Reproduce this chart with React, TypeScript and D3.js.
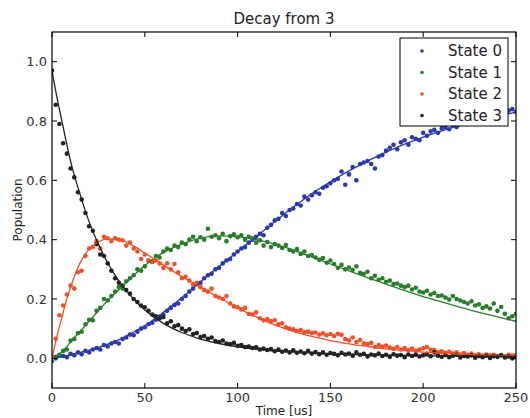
import React from "react";
import * as d3 from "d3";

// sample times, every 2 us from 0 to 250
const times = d3.range(0, 251, 2);

const state0 = [
  0.005, 0.0, 0.01, 0.008, 0.004, 0.015, 0.01, 0.02, 0.014, 0.025,
  0.02, 0.03, 0.035, 0.03, 0.045, 0.04, 0.05, 0.055, 0.05, 0.065,
  0.07, 0.08, 0.078, 0.09, 0.1, 0.105, 0.115, 0.12, 0.13, 0.14,
  0.148, 0.16, 0.17, 0.18, 0.185, 0.2, 0.21, 0.225, 0.235, 0.25,
  0.255, 0.27, 0.28, 0.285, 0.3, 0.305, 0.32, 0.33, 0.335, 0.35,
  0.36, 0.37, 0.375, 0.39, 0.4, 0.41, 0.42, 0.415, 0.44, 0.45,
  0.465, 0.47, 0.49, 0.48, 0.5, 0.505, 0.52, 0.515, 0.545, 0.535,
  0.55, 0.56, 0.555, 0.575, 0.58, 0.59, 0.6, 0.605, 0.63, 0.585,
  0.62, 0.645, 0.6, 0.655, 0.66, 0.665, 0.655, 0.64, 0.68, 0.685,
  0.7, 0.71, 0.72, 0.705, 0.728, 0.735, 0.72, 0.745, 0.74, 0.735,
  0.76, 0.75, 0.765, 0.77, 0.76, 0.775, 0.78, 0.772, 0.785, 0.78,
  0.79, 0.795, 0.8, 0.79, 0.805, 0.81, 0.8, 0.815, 0.82, 0.81,
  0.825, 0.83, 0.82, 0.835, 0.84, 0.83,
];

const state1 = [
  -0.01, 0.005, 0.012, 0.025, 0.03, 0.06, 0.065, 0.085, 0.09, 0.115,
  0.13, 0.128, 0.16, 0.17, 0.2, 0.195, 0.21, 0.225, 0.24, 0.235,
  0.26, 0.27, 0.28, 0.3, 0.295, 0.31, 0.33, 0.325, 0.345, 0.34,
  0.36, 0.37, 0.365, 0.38, 0.375, 0.39, 0.385, 0.4, 0.41, 0.395,
  0.408, 0.4, 0.437, 0.41, 0.415, 0.405, 0.42, 0.395, 0.412, 0.418,
  0.408, 0.415, 0.4, 0.41, 0.405, 0.39, 0.398, 0.38, 0.392, 0.375,
  0.385, 0.38, 0.372, 0.382, 0.365, 0.36, 0.368, 0.352, 0.36, 0.345,
  0.348, 0.34, 0.332, 0.338, 0.322, 0.33, 0.318, 0.305, 0.315, 0.3,
  0.306, 0.298, 0.31, 0.288, 0.285, 0.292, 0.27, 0.278, 0.265, 0.27,
  0.258, 0.262, 0.25, 0.252, 0.245, 0.24, 0.245, 0.232, 0.238, 0.225,
  0.222, 0.228, 0.215, 0.22, 0.21, 0.212, 0.205, 0.198, 0.21, 0.2,
  0.195, 0.19, 0.185, 0.192, 0.178, 0.182, 0.17, 0.175, 0.168, 0.185,
  0.16, 0.173, 0.15, 0.135, 0.142, 0.15,
];

const state2 = [
  0.005, 0.066, 0.145, 0.178, 0.215, 0.245, 0.235, 0.29, 0.295, 0.345,
  0.37, 0.375, 0.395, 0.37, 0.41, 0.405, 0.395, 0.405, 0.4, 0.398,
  0.38, 0.39, 0.37, 0.36, 0.335, 0.35, 0.33, 0.325, 0.33, 0.32,
  0.305, 0.32, 0.3, 0.318, 0.29, 0.27, 0.275, 0.262, 0.25, 0.255,
  0.24, 0.23, 0.225, 0.235, 0.21, 0.205, 0.2, 0.21, 0.185, 0.175,
  0.172, 0.165, 0.17, 0.15, 0.148, 0.155, 0.135, 0.128, 0.132, 0.125,
  0.128, 0.115, 0.118, 0.105, 0.1, 0.098, 0.092, 0.095, 0.088, 0.09,
  0.085, 0.087, 0.08, 0.084, 0.078, 0.082, 0.075, 0.083, 0.079, 0.065,
  0.06, 0.07, 0.055, 0.062, 0.05, 0.048, 0.052, 0.038, 0.045, 0.04,
  0.043, 0.036, 0.032, 0.038, 0.03, 0.035, 0.028, 0.033, 0.025, 0.03,
  0.034, 0.038, 0.029, 0.028, 0.02, 0.024, 0.018, 0.022, 0.016, 0.02,
  0.013, 0.018, 0.012, 0.016, 0.01, 0.014, 0.009, 0.013, 0.01, 0.012,
  0.008, 0.011, 0.007, 0.012, 0.009, 0.01,
];

const state3 = [
  0.97, 0.855, 0.79, 0.725, 0.69, 0.64, 0.61, 0.56, 0.535, 0.49,
  0.445, 0.43, 0.385, 0.35, 0.345, 0.32, 0.295, 0.27, 0.255, 0.245,
  0.23, 0.218, 0.2, 0.19, 0.178, 0.172, 0.16, 0.148, 0.142, 0.135,
  0.139, 0.118, 0.125, 0.108, 0.112, 0.1, 0.092, 0.098, 0.082, 0.085,
  0.072, 0.075, 0.066, 0.07, 0.058, 0.055, 0.06, 0.05, 0.048, 0.052,
  0.042, 0.045, 0.038, 0.04, 0.035, 0.037, 0.03, 0.033, 0.028, 0.031,
  0.024, 0.03, 0.022, 0.026, 0.02, 0.027, 0.019, 0.023, 0.017, 0.025,
  0.016, 0.021, 0.014, 0.02, 0.012, 0.018, 0.015, 0.01, 0.019, 0.013,
  0.016, 0.009, 0.02, 0.012, 0.015, 0.006, 0.013, 0.01, 0.016, 0.008,
  0.012, 0.005, 0.014, 0.009, 0.011, 0.004, 0.013, 0.008, 0.012, 0.006,
  0.01, 0.015, 0.007, 0.02, 0.009, 0.005, 0.011, 0.004, 0.009, 0.012,
  0.003, 0.008, 0.006, 0.01, 0.002, 0.008, 0.004, 0.009, 0.001, 0.007,
  0.005, 0.01, 0.003, 0.006, 0.0, 0.004,
];

// fitted curves
const fitTimes = [
  0, 2.5, 5, 7.5, 10, 15, 20, 25, 30, 35, 40, 45, 50, 60, 70, 80, 90, 100,
  110, 120, 130, 140, 150, 160, 170, 180, 190, 200, 210, 220, 230, 240, 250,
];
const fit0 = [
  0, 0.002, 0.005, 0.008, 0.012, 0.02, 0.028, 0.037, 0.048, 0.06, 0.075,
  0.092, 0.11, 0.155, 0.205, 0.258, 0.31, 0.36, 0.41, 0.46, 0.51, 0.555,
  0.595, 0.632, 0.665, 0.695, 0.722, 0.746, 0.767, 0.785, 0.8, 0.815, 0.83,
];
const fit1 = [
  0, 0.008, 0.02, 0.036, 0.055, 0.09, 0.125, 0.16, 0.195, 0.225, 0.255,
  0.285, 0.313, 0.357, 0.385, 0.405, 0.413, 0.41, 0.4, 0.385, 0.365, 0.342,
  0.318, 0.295, 0.272, 0.25, 0.228, 0.208, 0.19, 0.172, 0.155, 0.14, 0.125,
];
const fit2 = [
  0, 0.07, 0.13, 0.19, 0.24, 0.32, 0.368, 0.393, 0.403, 0.402, 0.392,
  0.375, 0.355, 0.315, 0.275, 0.24, 0.205, 0.17, 0.14, 0.113, 0.091, 0.074,
  0.06, 0.049, 0.04, 0.032, 0.026, 0.021, 0.017, 0.014, 0.011, 0.009, 0.007,
];
const fit3 = [
  0.97, 0.885, 0.81, 0.735, 0.665, 0.555, 0.46, 0.385, 0.322, 0.27, 0.228,
  0.193, 0.163, 0.118, 0.087, 0.065, 0.05, 0.039, 0.031, 0.025, 0.021,
  0.018, 0.015, 0.013, 0.012, 0.011, 0.01, 0.009, 0.008, 0.008, 0.007,
  0.007, 0.006,
];

const labels = ["State 0", "State 1", "State 2", "State 3"];
const colors = ["#2b3aa8", "#2a7d2a", "#f0502a", "#222222"];
const xTicks = [0, 50, 100, 150, 200, 250];
const yTicks = [0.0, 0.2, 0.4, 0.6, 0.8, 1.0];

const W = 530;
const H = 418;
const m = { left: 52, right: 14, top: 32, bottom: 30 };

export default function App() {
  const x = d3.scaleLinear().domain([0, 250]).range([m.left, W - m.right]);
  const y = d3.scaleLinear().domain([-0.1, 1.1]).range([H - m.bottom, m.top]);
  const series = [state0, state1, state2, state3];
  const fits = [fit0, fit1, fit2, fit3];
  const line = d3
    .line<number>()
    .x((_, i) => x(fitTimes[i]))
    .y((d) => y(d))
    .curve(d3.curveMonotoneX);

  const font = "'DejaVu Sans', sans-serif";
  const x0 = x.range()[0];
  const x1 = x.range()[1];
  const y0 = y.range()[0];
  const y1 = y.range()[1];
  const lx = 400;
  const ly = 38;

  return (
    <svg
      width={W}
      height={H}
      style={{ position: "absolute", left: 0, top: 0, background: "#fff" }}
      fontFamily={font}
    >
      <defs>
        <clipPath id="plot">
          <rect x={x0} y={y1} width={x1 - x0} height={y0 - y1} />
        </clipPath>
      </defs>
      <g clipPath="url(#plot)">
        {series.map((s, k) => (
          <g key={k} fill={colors[k]}>
            {s.map((v, i) => (
              <circle key={i} cx={x(times[i])} cy={y(v)} r={2.3} />
            ))}
          </g>
        ))}
        {fits.map((f, k) => (
          <path key={k} d={line(f) || ""} fill="none" stroke={colors[k]} strokeWidth={1.3} />
        ))}
      </g>

      {/* ticks, inward on all sides */}
      {xTicks.map((t) => (
        <g key={t}>
          <line x1={x(t)} x2={x(t)} y1={y0} y2={y0 - 5} stroke="#000" />
          <line x1={x(t)} x2={x(t)} y1={y1} y2={y1 + 5} stroke="#000" />
          <text x={x(t)} y={y0 + 14} fontSize={13} textAnchor="middle" fill="#333">
            {t}
          </text>
        </g>
      ))}
      {yTicks.map((t) => (
        <g key={t}>
          <line x1={x0} x2={x0 + 5} y1={y(t)} y2={y(t)} stroke="#000" />
          <line x1={x1} x2={x1 - 5} y1={y(t)} y2={y(t)} stroke="#000" />
          <text x={x0 - 5} y={y(t) + 4.5} fontSize={13} textAnchor="end" fill="#333">
            {t.toFixed(1)}
          </text>
        </g>
      ))}
      <rect x={x0} y={y1} width={x1 - x0} height={y0 - y1} fill="none" stroke="#000" strokeWidth={1.2} />

      <text x={(x0 + x1) / 2} y={24} fontSize={15} textAnchor="middle" fill="#222">
        Decay from 3
      </text>
      <text x={(x0 + x1) / 2} y={415} fontSize={12} textAnchor="middle" fill="#222">
        Time [us]
      </text>
      <text
        transform={`translate(22,${(y0 + y1) / 2}) rotate(-90)`}
        fontSize={12}
        textAnchor="middle"
        fill="#222"
      >
        Population
      </text>

      {/* legend */}
      <g>
        <rect x={lx} y={ly} width={108} height={88} fill="#fff" stroke="#000" strokeWidth={1} />
        {labels.map((l, k) => (
          <g key={l} transform={`translate(0,${ly + 13 + k * 21.5})`}>
            <circle cx={lx + 22} cy={0} r={1.8} fill={colors[k]} />
            <text x={lx + 48} y={5} fontSize={15} fill="#222">
              {l}
            </text>
          </g>
        ))}
      </g>
    </svg>
  );
}
